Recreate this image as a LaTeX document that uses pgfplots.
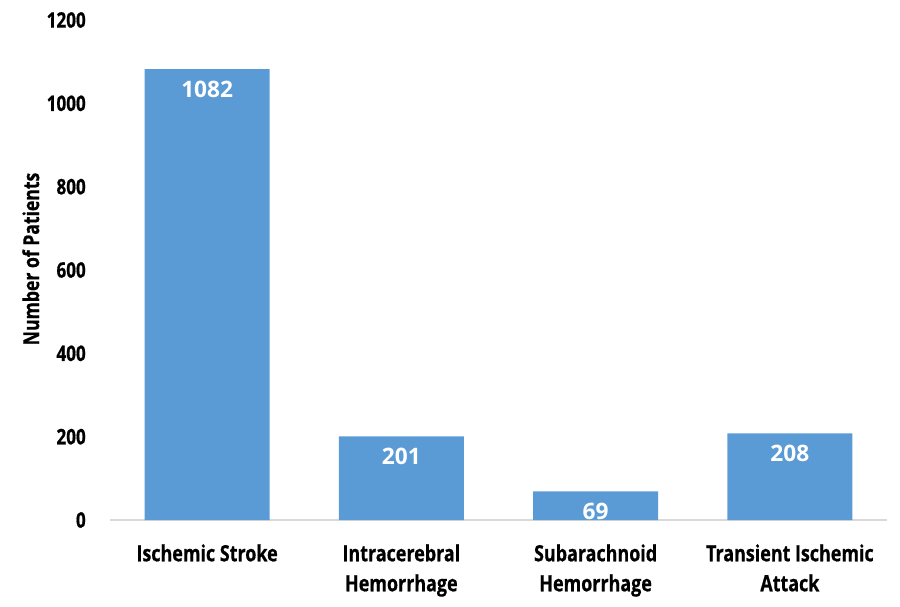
\documentclass[border=0pt]{standalone}
\usepackage{fontspec}
\setmainfont{Open Sans}
\newfontfamily\condfont{Open Sans}[FakeStretch=0.8, FakeBold=0.6]
\usepackage{pgfplots}
\pgfplotsset{compat=1.18}
\definecolor{barblue}{HTML}{5B9BD5}
\definecolor{axgray}{HTML}{D9D9D9}
\begin{document}
\begin{tikzpicture}
\begin{axis}[
  scale only axis,
  width=582.75pt, height=375pt,
  xmin=-0.5, xmax=3.5,
  ymin=0, ymax=1200,
  ytick={0,200,400,600,800,1000,1200},
  xtick={0,1,2,3},
  xticklabels={Ischemic Stroke, Intracerebral\\Hemorrhage, Subarachnoid\\Hemorrhage, Transient Ischemic\\Attack},
  separate axis lines,
  axis x line*=bottom,
  axis y line*=left,
  y axis line style={draw=none},
  x axis line style={draw=axgray, line width=1pt, -},
  tick style={draw=none},
  /pgf/number format/assume math mode=true,
  /pgf/number format/1000 sep={},
  scaled y ticks=false,
  yticklabel style={font=\condfont\bfseries\fontsize{16}{18}\selectfont, inner sep=0pt, anchor=east, xshift=-18pt},
  xticklabel style={font=\condfont\bfseries\fontsize{16.8}{22.5}\selectfont, align=center, anchor=north, inner sep=0pt, yshift=-18pt},
  ylabel={Number of Patients},
  ylabel style={font=\condfont\bfseries\fontsize{16.5}{18}\selectfont, at={(axis description cs:-0.102,0.522)}, anchor=center},
  nodes near coords,
  nodes near coords style={font=\bfseries\fontsize{17}{18}\selectfont, text=white, anchor=north, inner sep=0pt, yshift=-8.5pt},
  clip=false,
]
\addplot[ybar, bar width=93.75pt, fill=barblue, draw=none] coordinates {(0,1082) (1,201) (2,69) (3,208)};
\end{axis}
\pgfresetboundingbox
\path[use as bounding box] (current axis.south west)+(-82.5pt,-64.5pt) rectangle ([xshift=9.75pt,yshift=15pt]current axis.north east);
\end{tikzpicture}
\end{document}
